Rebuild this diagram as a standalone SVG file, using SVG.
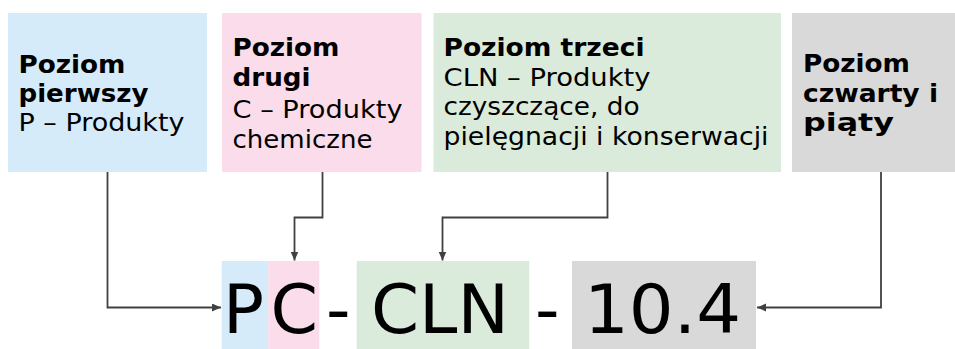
<svg xmlns="http://www.w3.org/2000/svg" width="955" height="349" viewBox="0 0 955 349">
<style>
.b{font-family:"DejaVu Sans","Liberation Sans",sans-serif;font-size:24px;font-weight:bold;fill:#000}
.r{font-family:"DejaVu Sans","Liberation Sans",sans-serif;font-size:24px;fill:#000}
.big{font-family:"DejaVu Sans","Liberation Sans",sans-serif;font-size:68px;fill:#000}
.blue{fill:#D6EBFA}.pink{fill:#FADCEB}.green{fill:#DAEBDB}.gray{fill:#D9D9D9}
.con{fill:none;stroke:#404040;stroke-width:1.8;marker-end:url(#ah)}
</style>
<defs>
<marker id="ah" markerUnits="userSpaceOnUse" markerWidth="10" markerHeight="10" refX="9" refY="4" orient="auto">
<path d="M0,0 L9,4 L0,8 z" fill="#404040"/>
</marker>
</defs>
<rect width="955" height="349" fill="#fff"/>
<g id="node-poziom1">
<rect class="blue" x="8" y="13" width="199" height="159"/>
<text class="b" x="18.5" y="72.5" textLength="107" lengthAdjust="spacingAndGlyphs">Poziom</text>
<text class="b" x="18.5" y="101.5" textLength="130" lengthAdjust="spacingAndGlyphs">pierwszy</text>
<text class="r" x="18.5" y="130.5" textLength="166" lengthAdjust="spacingAndGlyphs">P – Produkty</text>
</g>
<g id="node-poziom2">
<rect class="pink" x="222" y="13" width="199.5" height="159"/>
<text class="b" x="232.5" y="55.5" textLength="107" lengthAdjust="spacingAndGlyphs">Poziom</text>
<text class="b" x="232.5" y="85.5" textLength="78" lengthAdjust="spacingAndGlyphs">drugi</text>
<text class="r" x="232.5" y="118" textLength="170" lengthAdjust="spacingAndGlyphs">C – Produkty</text>
<text class="r" x="232.5" y="148" textLength="140" lengthAdjust="spacingAndGlyphs">chemiczne</text>
</g>
<g id="node-poziom3">
<rect class="green" x="433.5" y="13" width="347.5" height="159"/>
<text class="b" x="443.5" y="55.5" textLength="201" lengthAdjust="spacingAndGlyphs">Poziom trzeci</text>
<text class="r" x="443.5" y="85.5" textLength="207" lengthAdjust="spacingAndGlyphs">CLN – Produkty</text>
<text class="r" x="443.5" y="115" textLength="196" lengthAdjust="spacingAndGlyphs">czyszczące, do</text>
<text class="r" x="443.5" y="145" textLength="325" lengthAdjust="spacingAndGlyphs">pielęgnacji i konserwacji</text>
</g>
<g id="node-poziom4">
<rect class="gray" x="792" y="13" width="163" height="159"/>
<text class="b" x="803" y="72" textLength="107" lengthAdjust="spacingAndGlyphs">Poziom</text>
<text class="b" x="803" y="101.5" textLength="135" lengthAdjust="spacingAndGlyphs">czwarty i</text>
<text class="b" x="803" y="130.5" textLength="91" lengthAdjust="spacingAndGlyphs">piąty</text>
</g>
<g id="node-code">
<rect class="blue" x="221.7" y="261" width="46.6" height="88"/>
<rect class="pink" x="268.3" y="261" width="51" height="88"/>
<rect class="green" x="356.7" y="261" width="172.6" height="88"/>
<rect class="gray" x="572" y="261" width="184" height="88"/>
<text class="big" x="223" y="332.5">P</text>
<text class="big" x="270.5" y="332.5">C</text>
<text class="big" x="326" y="332.5">-</text>
<text class="big" x="371" y="332.5" textLength="138" lengthAdjust="spacingAndGlyphs">CLN</text>
<text class="big" x="535" y="332.5">-</text>
<text class="big" x="584" y="332.5" textLength="157" lengthAdjust="spacingAndGlyphs">10.4</text>
</g>
<g id="connectors">
<path class="con" d="M107.5,172 V307.5 H221"/>
<path class="con" d="M322.5,172 V217.5 H294.5 V260.5"/>
<path class="con" d="M607.5,172 V217.5 H442.5 V260.5"/>
<path class="con" d="M881,172 V307.5 H757"/>
</g>
</svg>
